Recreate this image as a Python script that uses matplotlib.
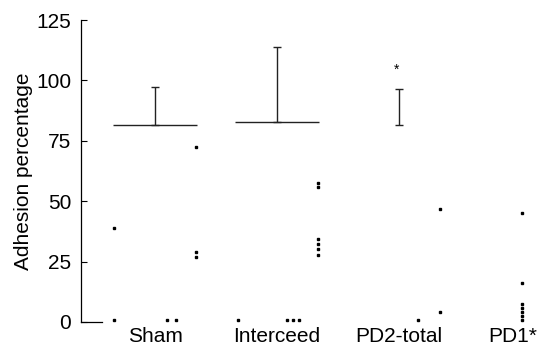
import matplotlib
matplotlib.use("Agg")
import matplotlib.pyplot as plt
import matplotlib.transforms as mtransforms

plt.rcParams["font.family"] = ["Liberation Sans", "DejaVu Sans"]

groups = ["Sham", "Interceed", "PD2-total", "PD1*"]

# group means and upper SD (None = not drawn)
means = [81.5, 82.9, 81.5, None]
upper_err = [15.8, 30.8, 14.9, None]
show_mean_line = [True, True, False, False]

# individual animals
sham_vals = [38.9, 1, 1, 1, 72.6, 29.1, 26.9]
sham_off = [-0.336, -0.336, 0.098, 0.172, 0.336, 0.336, 0.336]
inter_vals = [1, 1, 1, 1, 57.7, 56.0, 34.4, 32.2, 30.1, 27.7]
inter_off = [-0.322, 0.082, 0.131, 0.18, 0.336, 0.336, 0.336, 0.336, 0.336, 0.336]
pd2_vals = [1, 46.8, 4.0]
pd2_off = [0.156, 0.336, 0.336]
pd1_vals = [45.2, 16.0, 7.5, 5.8, 4.1, 2.5, 1]
pd1_off = [0.008] * 7

points = [(sham_vals, sham_off), (inter_vals, inter_off),
          (pd2_vals, pd2_off), (pd1_vals, pd1_off)]

yticks = [0, 25, 50, 75, 100, 125]


def main():
	fig = plt.figure(figsize=(5.44, 3.53), dpi=100)
	ax = fig.add_axes([0.149, 0.088, 0.844, 0.855])

	for i, (vals, offs) in enumerate(points):
		ax.plot([i + o for o in offs], vals, "s", color="black",
			markersize=1.6, clip_on=False, linestyle="none")

	for i, m in enumerate(means):
		if m is None:
			continue
		if show_mean_line[i]:
			ax.hlines(m, i - 0.344, i + 0.344, color="#222222", linewidth=1.0)
		ax.errorbar([i], [m], yerr=[[0], [upper_err[i]]], fmt="none",
			ecolor="#222222", elinewidth=1.0, capsize=3, capthick=1.0)

	ax.text(1.98, 104.3, "*", ha="center", va="center", fontsize=10)

	ax.set_xlim(-0.607, 3.16)
	ax.set_ylim(0, 125)
	ax.set_yticks(yticks)
	ax.tick_params(axis="y", direction="in", length=4, width=0.8,
		labelsize=15, pad=7)
	ax.set_xticks(range(len(groups)))
	ax.set_xticklabels([g for g in groups], fontsize=15)
	ax.tick_params(axis="x", length=0, pad=4)

	# last label sits a little left of its column in the original
	lab = ax.get_xticklabels()[-1]
	lab.set_transform(lab.get_transform() +
		mtransforms.ScaledTranslation(-6 / 72, 0, fig.dpi_scale_trans))

	ax.spines["top"].set_visible(False)
	ax.spines["right"].set_visible(False)
	ax.spines["bottom"].set_bounds(-0.607, -0.434)
	ax.spines["left"].set_linewidth(0.9)
	ax.spines["bottom"].set_linewidth(0.9)

	ax.set_ylabel("Adhesion percentage", fontsize=15, labelpad=2)

	fig.savefig("out.png", dpi=100)


if __name__ == "__main__":
	main()
